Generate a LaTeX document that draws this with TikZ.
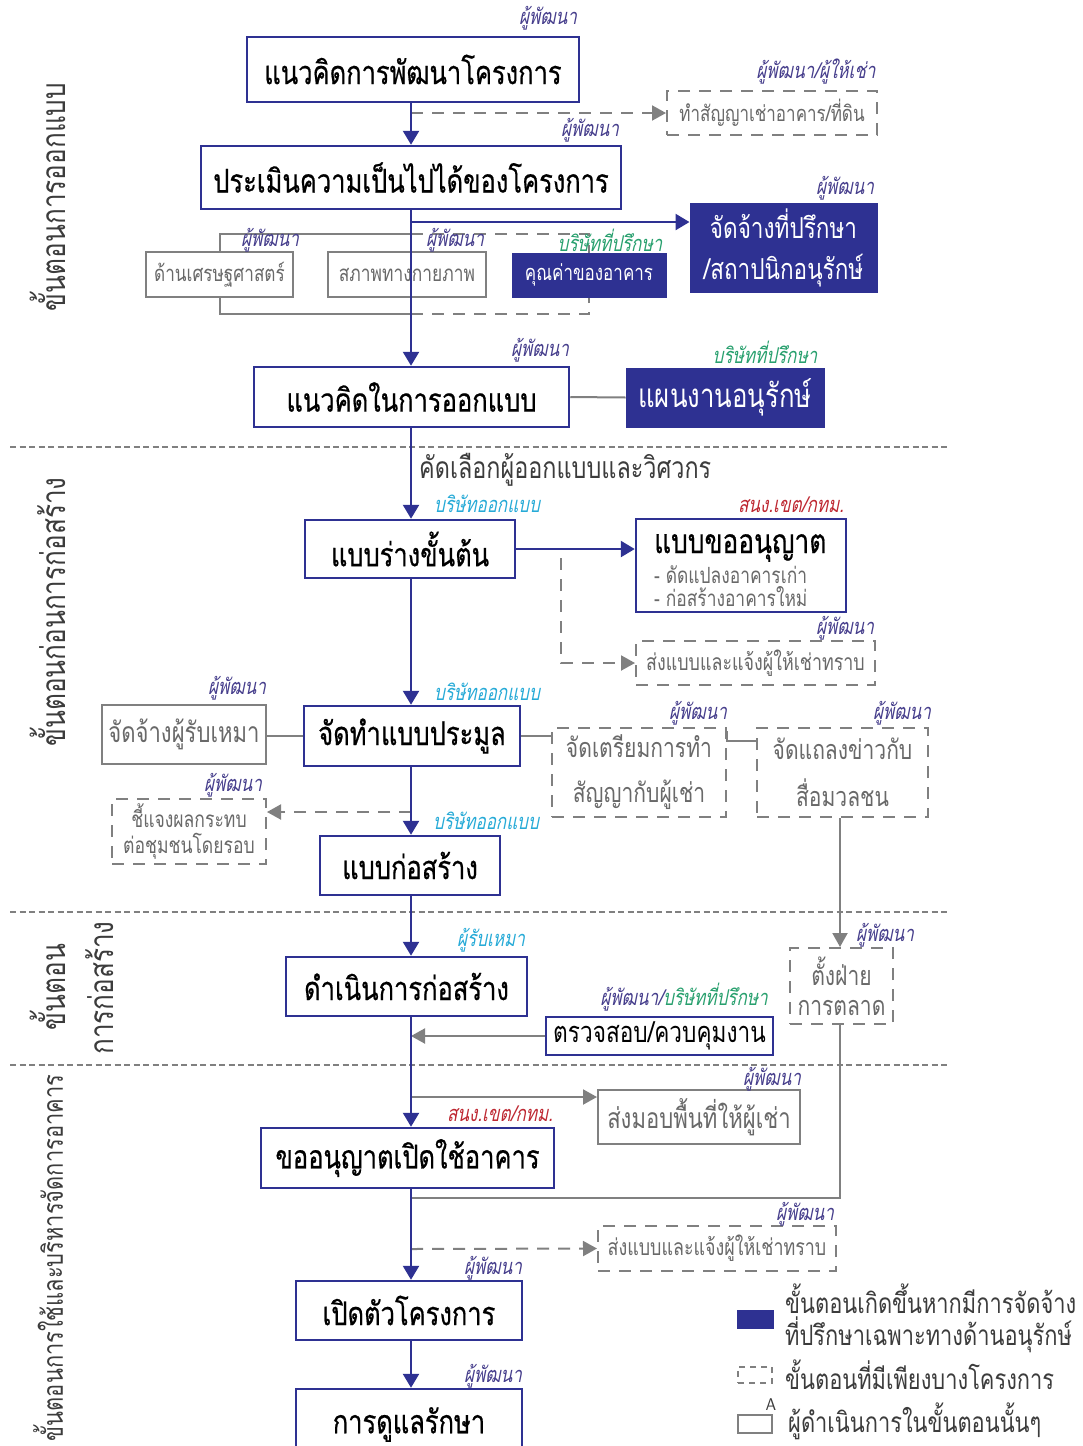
\documentclass[tikz,border=0pt]{standalone}
\usepackage{fontspec}
\setmainfont[Script=Thai,FakeStretch=0.78]{Loma}
\newfontfamily\thmain[Script=Thai,FakeStretch=0.78,FakeBold=0.5]{Loma}
\newfontfamily\thsl[Script=Thai,FakeStretch=0.78,FakeSlant=0.2]{Loma}
\usetikzlibrary{arrows.meta}

\definecolor{navy}{RGB}{46,49,146}
\definecolor{lgray}{RGB}{128,128,128}
\definecolor{tgray}{RGB}{105,105,105}
\definecolor{phase}{RGB}{60,60,60}
\definecolor{dev}{RGB}{70,62,140}
\definecolor{firm}{RGB}{40,160,110}
\definecolor{designer}{RGB}{38,170,215}
\definecolor{office}{RGB}{190,40,50}

\newcommand\tsize[1]{\fontsize{#1}{#1}\selectfont}

\tikzset{
  stage/.style={draw=navy, line width=2.5pt, fill=white, text=black, inner sep=0pt,
    font=\thmain\tsize{32.7}},
  navybox/.style={draw=navy, fill=navy, line width=1pt, text=white, inner sep=0pt},
  graybox/.style={draw=lgray, line width=2pt, fill=white, text=tgray, inner sep=0pt},
  optbox/.style={draw=lgray, line width=2pt, dash pattern=on 12pt off 9pt, fill=white,
    text=tgray, inner sep=0pt},
  who/.style={font=\thsl\tsize{21.8}, text=dev, inner sep=1pt},
  phaselabel/.style={rotate=90, font=\tsize{33.5}, text=phase, inner sep=0pt},
  flow/.style={draw=navy, line width=2.5pt, -{Triangle[length=14pt,width=16pt]}},
  gflow/.style={draw=lgray, line width=2pt, -{Triangle[length=14pt,width=15pt]}},
  dflow/.style={draw=lgray, line width=2pt, dash pattern=on 12pt off 9pt,
    -{Triangle[length=14pt,width=15pt]}},
  gline/.style={draw=lgray, line width=2pt},
  dline/.style={draw=lgray, line width=2pt, dash pattern=on 12pt off 9pt},
  sepline/.style={draw=lgray, line width=2pt, dash pattern=on 6pt off 3.5pt},
  plain/.style={inner sep=0pt},
}

\begin{document}
\begin{tikzpicture}[x=1pt, y=-1pt]
\useasboundingbox (0,0) rectangle (1083,1446);
\fill[white] (0,0) rectangle (1083,1446);

% phase separators
\coordinate (s1a) at (10,447);  \coordinate (s1b) at (948,447);
\coordinate (s2a) at (10,912);  \coordinate (s2b) at (948,912);
\coordinate (s3a) at (10,1065); \coordinate (s3b) at (948,1065);
\draw[sepline] (s1a) -- (s1b);
\draw[sepline] (s2a) -- (s2b);
\draw[sepline] (s3a) -- (s3b);

% phase titles
\node[phaselabel] (ph1) at (48,197) {ขั้นตอนการออกแบบ};
\node[phaselabel] (ph2) at (48,612) {ขั้นตอนก่อนการก่อสร้าง};
\node[phaselabel] (ph3a) at (48,987) {ขั้นตอน};
\node[phaselabel] (ph3b) at (100,988) {การก่อสร้าง};
\node[phaselabel, font=\tsize{28}] (ph4) at (48,1258) {ขั้นตอนการใช้และบริหารจัดการอาคาร};

% spine and junctions
\coordinate (sp) at (411,0);
\coordinate (mx) at (840,0);
\coordinate (j1) at (411,113);
\coordinate (j2) at (411,222);
\coordinate (j3) at (411,234);
\coordinate (j4) at (411,314);
\coordinate (j5) at (561,558);
\coordinate (j6) at (411,812);
\coordinate (j7) at (411,1097);
\coordinate (j8) at (411,1198);
\coordinate (j9) at (411,1249);

% nodes
\node[stage, minimum width=332pt, minimum height=65pt] (b1) at (413,69.5) {แนวคิดการพัฒนาโครงการ};
\node[stage, minimum width=420pt, minimum height=63pt] (b2) at (411,177.5) {ประเมินความเป็นไปได้ของโครงการ};
\node[optbox, minimum width=210pt, minimum height=44pt, font=\tsize{21.8}] (lease) at (772,113) {ทำสัญญาเช่าอาคาร/ที่ดิน};
\node[navybox, minimum width=187pt, minimum height=89pt, font=\tsize{28.9}, align=center] (cons) at (783.5,247.5) {จัดจ้างที่ปรึกษา\\[12pt]/สถาปนิกอนุรักษ์};
\node[graybox, minimum width=147pt, minimum height=45pt, font=\tsize{22}] (eco) at (219.5,274.5) {ด้านเศรษฐศาสตร์};
\node[graybox, minimum width=158pt, minimum height=45pt, font=\tsize{22.3}] (phys) at (407,274.5) {สภาพทางกายภาพ};
\node[navybox, minimum width=154pt, minimum height=44pt, font=\tsize{21.8}] (value) at (589,275) {คุณค่าของอาคาร};
\node[stage, minimum width=315pt, minimum height=60pt] (b3) at (411.5,397) {แนวคิดในการออกแบบ};
\node[navybox, minimum width=198pt, minimum height=59pt, font=\tsize{33}] (plan) at (725,397.5) {แผนงานอนุรักษ์};
\node[anchor=west, font=\tsize{30}, text=phase, plain] (select) at (419,470) {คัดเลือกผู้ออกแบบและวิศวกร};
\node[stage, minimum width=210pt, minimum height=58pt] (b4) at (410,549) {แบบร่างขั้นต้น};
\node[stage, minimum width=210pt, minimum height=93pt] (permit) at (741,565.5) {};
\node[anchor=west, font=\thmain\tsize{33.7}, plain] (permitt) at (654,548) {แบบขออนุญาต};
\node[anchor=west, font=\tsize{22.3}, text=tgray, plain] (permit1) at (654,575) {- ดัดแปลงอาคารเก่า};
\node[anchor=west, font=\tsize{22.3}, text=tgray, plain] (permit2) at (654,597) {- ก่อสร้างอาคารใหม่};
\node[optbox, minimum width=239pt, minimum height=44pt, font=\tsize{22.9}] (notify1) at (755.5,663) {ส่งแบบและแจ้งผู้ให้เช่าทราบ};
\node[stage, minimum width=216pt, minimum height=60pt] (b5) at (412,736) {จัดทำแบบประมูล};
\node[graybox, minimum width=164pt, minimum height=59pt, font=\tsize{28.3}] (contractor) at (184,734.5) {จัดจ้างผู้รับเหมา};
\node[optbox, minimum width=174pt, minimum height=89pt, font=\tsize{27}, align=center] (prep) at (639,772.5) {จัดเตรียมการทำ\\[18pt]สัญญากับผู้เช่า};
\node[optbox, minimum width=171pt, minimum height=89pt, font=\tsize{27}, align=center] (press) at (842.5,772.5) {จัดแถลงข่าวกับ\\[18pt]สื่อมวลชน};
\node[optbox, minimum width=154pt, minimum height=65pt, font=\tsize{22.5}, align=center] (explain) at (189,831.5) {ชี้แจงผลกระทบ\\[4pt]ต่อชุมชนโดยรอบ};
\node[stage, minimum width=180pt, minimum height=59pt] (b6) at (410,865.5) {แบบก่อสร้าง};
\node[stage, minimum width=241pt, minimum height=59pt] (b7) at (406.5,986.5) {ดำเนินการก่อสร้าง};
\node[optbox, minimum width=103pt, minimum height=76pt, font=\tsize{27}, align=center] (mkt) at (841.5,986) {ตั้งฝ่าย\\[3pt]การตลาด};
\node[stage, line width=2pt, minimum width=227pt, minimum height=38pt, font=\tsize{29}] (inspect) at (659.5,1036) {ตรวจสอบ/ควบคุมงาน};
\node[graybox, minimum width=202pt, minimum height=54pt, font=\tsize{28.3}] (handover) at (699,1117) {ส่งมอบพื้นที่ให้ผู้เช่า};
\node[stage, minimum width=293pt, minimum height=60pt] (b8) at (407.5,1158) {ขออนุญาตเปิดใช้อาคาร};
\node[optbox, minimum width=238pt, minimum height=45pt, font=\tsize{22.9}] (notify2) at (717,1248.5) {ส่งแบบและแจ้งผู้ให้เช่าทราบ};
\node[stage, minimum width=226pt, minimum height=59pt] (b9) at (409,1310.5) {เปิดตัวโครงการ};
\node[stage, minimum width=226pt, minimum height=71pt] (b10) at (409,1424.5) {การดูแลรักษา};

% connectors
\draw[gline] (eco.north) |- (j3);
\draw[dline] (j3) -| (value.north);
\draw[gline] (eco.south) |- (j4);
\draw[dline] (j4) -| (value.south);
\draw[gline] (b3.east) -- (plan.west);
\draw[gline] (b5.west) -- (b5.west -| contractor.east);
\draw[gline] (b5.east) -- (prep.west |- b5.east);
\draw[gline] ([yshift=-4pt]prep.north east) |- ([yshift=-14pt]press.north west);
\draw[gline] (mkt.south -| mx) |- (j8);

\draw[dflow] (j1) -- (lease.west);
\draw[dflow] (j5) |- (notify1.west);
\draw[dflow] (j6) -- (explain.east |- j6);
\draw[dflow] (j9) -- (notify2.west);
\draw[gflow] (press.south -| mx) -- (mkt.north -| mx);
\draw[gflow] (inspect.west) -- (inspect.west -| sp);
\draw[gflow] (j7) -- (j7 -| handover.west);

\draw[flow] (b1.south -| sp) -- (b2.north -| sp);
\draw[flow] (j2) -- (cons.west |- j2);
\draw[flow] (b2.south -| sp) -- (b3.north -| sp);
\draw[flow] (b3.south -| sp) -- (b4.north -| sp);
\draw[flow] (b4.east) -- (b4.east -| permit.west);
\draw[flow] (b4.south -| sp) -- (b5.north -| sp);
\draw[flow] (b5.south -| sp) -- (b6.north -| sp);
\draw[flow] (b6.south -| sp) -- (b7.north -| sp);
\draw[flow] (b7.south -| sp) -- (b8.north -| sp);
\draw[flow] (b8.south -| sp) -- (b9.north -| sp);
\draw[flow] (b9.south -| sp) -- (b10.north -| sp);

% responsible parties
\node[who] (w1) at (548,18) {ผู้พัฒนา};
\node[who] (w2) at (816,72) {ผู้พัฒนา/ผู้ให้เช่า};
\node[who] (w3) at (590,130) {ผู้พัฒนา};
\node[who] (w4) at (845,188) {ผู้พัฒนา};
\node[who] (w5) at (270,240) {ผู้พัฒนา};
\node[who] (w6) at (455,240) {ผู้พัฒนา};
\node[who, text=firm] (w7) at (610,240) {บริษัทที่ปรึกษา};
\node[who] (w8) at (540,350) {ผู้พัฒนา};
\node[who, text=firm] (w9) at (765,352) {บริษัทที่ปรึกษา};
\node[who, text=designer] (w10) at (487,504) {บริษัทออกแบบ};
\node[who, text=office] (w11) at (791,505) {สนง.เขต/กทม.};
\node[who] (w12) at (845,628) {ผู้พัฒนา};
\node[who, text=designer] (w13) at (487,692) {บริษัทออกแบบ};
\node[who] (w14) at (237,688) {ผู้พัฒนา};
\node[who] (w15) at (698,713) {ผู้พัฒนา};
\node[who] (w16) at (902,713) {ผู้พัฒนา};
\node[who] (w17) at (233,785) {ผู้พัฒนา};
\node[who, text=designer, fill=white] (w18) at (486,821) {บริษัทออกแบบ};
\node[who, text=designer] (w19) at (491,940) {ผู้รับเหมา};
\node[who] (w20) at (885,935) {ผู้พัฒนา};
\node[who] (w21) at (684,997) {ผู้พัฒนา/\textcolor{firm}{บริษัทที่ปรึกษา}};
\node[who] (w22) at (772,1079) {ผู้พัฒนา};
\node[who, text=office] (w23) at (500,1114) {สนง.เขต/กทม.};
\node[who] (w24) at (805,1214) {ผู้พัฒนา};
\node[who] (w25) at (493,1268) {ผู้พัฒนา};
\node[who] (w26) at (493,1376) {ผู้พัฒนา};

% legend
\node[navybox, minimum width=36pt, minimum height=18pt] (k1) at (755,1319) {};
\node[anchor=west, align=left, font=\tsize{28}, text=phase, plain] (k1t) at (785,1318)
  {ขั้นตอนเกิดขึ้นหากมีการจัดจ้าง\\[2pt]ที่ปรึกษาเฉพาะทางด้านอนุรักษ์};
\node[draw=lgray, line width=2pt, dash pattern=on 6pt off 5pt, minimum width=34pt, minimum height=16pt, plain] (k2) at (755,1375) {};
\node[anchor=west, font=\tsize{28}, text=phase, plain] (k2t) at (785,1375) {ขั้นตอนที่มีเพียงบางโครงการ};
\node[draw=lgray, line width=2pt, minimum width=34pt, minimum height=18pt, plain] (k3) at (755,1424) {};
\node[font=\sffamily\tsize{17}, text=phase, plain] (k3a) at (771,1405) {A};
\node[anchor=west, font=\tsize{28}, text=phase, plain] (k3t) at (788,1421) {ผู้ดำเนินการในขั้นตอนนั้นๆ};
\end{tikzpicture}
\end{document}
